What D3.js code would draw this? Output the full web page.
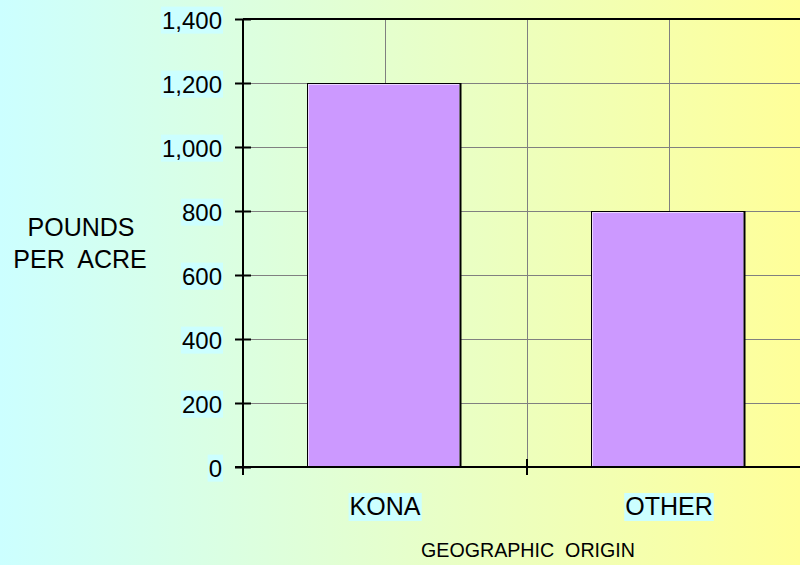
<!DOCTYPE html>
<html>
<head>
<meta charset="utf-8">
<script src="https://cdn.jsdelivr.net/npm/d3@7"></script>
<style>
  body { margin: 0; }
  text { font-family: "Liberation Sans", Arial, sans-serif; fill: #000; }
</style>
</head>
<body>
<div id="chart"></div>
<script>
// chart data
var categories = ["KONA", "OTHER"];
var values = [1200, 800];
var yTicks = [0, 200, 400, 600, 800, 1000, 1200, 1400];

var width = 800, height = 565;
var plotLeft = 243, plotTop = 19, plotBottom = 467, plotRight = 811;

var svg = d3.select("#chart").append("svg")
  .attr("width", width)
  .attr("height", height);

var grad = svg.append("defs").append("linearGradient")
  .attr("id", "bg")
  .attr("x1", "0%").attr("x2", "100%")
  .attr("y1", "0%").attr("y2", "0%");
grad.append("stop").attr("offset", "0%").attr("stop-color", "#ccffff");
grad.append("stop").attr("offset", "100%").attr("stop-color", "#ffff99");

svg.append("rect")
  .attr("width", width)
  .attr("height", height)
  .attr("fill", "url(#bg)");

// category slots (no padding) and bars inside them
var x = d3.scaleBand()
  .domain(categories)
  .range([plotLeft, plotRight]);
var step = x.step();
var barW = step * 0.54;
var barOff = step * 0.225;

var y = d3.scaleLinear()
  .domain([0, 1400])
  .range([plotBottom, plotTop]);

// horizontal grid
svg.append("g")
  .selectAll("line")
  .data(yTicks.slice(1))
  .enter().append("line")
  .attr("x1", plotLeft)
  .attr("x2", width)
  .attr("y1", function(d) { return Math.round(y(d)) + 0.5; })
  .attr("y2", function(d) { return Math.round(y(d)) + 0.5; })
  .attr("stroke", "#808080")
  .attr("stroke-width", 1);

// vertical grid, at category centres and boundaries
var vLines = [];
categories.forEach(function(c) {
  vLines.push(x(c) + step / 2);
  vLines.push(x(c) + step);
});
svg.append("g")
  .selectAll("line")
  .data(vLines)
  .enter().append("line")
  .attr("x1", function(d) { return Math.round(d) + 0.5; })
  .attr("x2", function(d) { return Math.round(d) + 0.5; })
  .attr("y1", plotTop)
  .attr("y2", plotBottom)
  .attr("stroke", "#808080")
  .attr("stroke-width", 1);

// bars
var bars = svg.append("g")
  .selectAll("g")
  .data(values)
  .enter().append("g");

bars.append("rect")
  .attr("x", function(d, i) { return Math.round(x(categories[i]) + barOff) + 0.5; })
  .attr("y", function(d) { return Math.round(y(d)) + 0.5; })
  .attr("width", Math.round(barW))
  .attr("height", function(d) { return Math.round(y(0) - y(d)); })
  .attr("fill", "#cc99ff")
  .attr("stroke", "#000")
  .attr("stroke-width", 1);

bars.append("rect")
  .attr("x", function(d, i) { return Math.round(x(categories[i]) + barOff) + 1.5; })
  .attr("y", function(d) { return Math.round(y(d)) + 1.5; })
  .attr("width", Math.round(barW) - 2)
  .attr("height", function(d) { return Math.round(y(0) - y(d)) - 2; })
  .attr("fill", "none")
  .attr("stroke", "#ffffff")
  .attr("stroke-opacity", 0.6)
  .attr("stroke-width", 1);

bars.append("line")
  .attr("x1", function(d, i) { return Math.round(x(categories[i]) + barOff) + Math.round(barW) + 0.5; })
  .attr("x2", function(d, i) { return Math.round(x(categories[i]) + barOff) + Math.round(barW) + 0.5; })
  .attr("y1", function(d) { return Math.round(y(d)); })
  .attr("y2", y(0))
  .attr("stroke", "#000")
  .attr("stroke-width", 2);

// top frame
svg.append("line")
  .attr("x1", plotLeft)
  .attr("x2", width)
  .attr("y1", plotTop)
  .attr("y2", plotTop)
  .attr("stroke", "#000")
  .attr("stroke-width", 2);

// y axis
var yAxis = svg.append("g")
  .attr("transform", "translate(" + plotLeft + ",0)")
  .call(d3.axisLeft(y).tickValues(yTicks).tickSize(8).tickPadding(13)
    .tickFormat(d3.format(",")));
yAxis.select(".domain").attr("stroke", "#000").attr("stroke-width", 2)
  .attr("d", "M0," + plotTop + "V" + plotBottom);
yAxis.selectAll(".tick line")
  .attr("x1", 8).attr("x2", -8)
  .attr("stroke", "#000").attr("stroke-width", 2);
yAxis.selectAll(".tick text")
  .style("font-size", "24px")
  .attr("dy", "0.38em");
yAxis.selectAll(".tick").each(function() {
  var t = d3.select(this).select("text");
  var b = t.node().getBBox();
  d3.select(this).insert("rect", "text")
    .attr("x", b.x - 1).attr("y", b.y)
    .attr("width", b.width + 2).attr("height", b.height)
    .attr("fill", "#ccffff");
});

// x axis
svg.append("line")
  .attr("x1", plotLeft - 8)
  .attr("x2", width)
  .attr("y1", plotBottom)
  .attr("y2", plotBottom)
  .attr("stroke", "#000")
  .attr("stroke-width", 2);

svg.append("g")
  .selectAll("line")
  .data(categories)
  .enter().append("line")
  .attr("x1", function(d) { return x(d); })
  .attr("x2", function(d) { return x(d); })
  .attr("y1", function(d, i) { return i === 0 ? plotBottom : plotBottom - 8; })
  .attr("y2", plotBottom + 8)
  .attr("stroke", "#000")
  .attr("stroke-width", 2);

// category labels with highlight
var catG = svg.append("g")
  .selectAll("g")
  .data(categories)
  .enter().append("g");
catG.append("text")
  .attr("x", function(d) { return x(d) + step / 2; })
  .attr("y", 515)
  .attr("text-anchor", "middle")
  .style("font-size", "25px")
  .text(function(d) { return d; });
catG.each(function() {
  var t = d3.select(this).select("text");
  var b = t.node().getBBox();
  d3.select(this).insert("rect", "text")
    .attr("x", b.x - 1).attr("y", b.y + 1)
    .attr("width", b.width + 2).attr("height", b.height)
    .attr("fill", "#ccffff");
});

// axis titles
svg.append("text")
  .attr("x", 528)
  .attr("y", 557)
  .attr("text-anchor", "middle")
  .attr("textLength", 214)
  .attr("lengthAdjust", "spacingAndGlyphs")
  .style("font-size", "21px")
  .style("white-space", "pre")
  .text("GEOGRAPHIC  ORIGIN");

svg.append("text")
  .attr("x", 81)
  .attr("y", 236)
  .attr("text-anchor", "middle")
  .style("font-size", "25px")
  .text("POUNDS");

svg.append("text")
  .attr("x", 80)
  .attr("y", 268)
  .attr("text-anchor", "middle")
  .style("font-size", "25px")
  .style("white-space", "pre")
  .text("PER  ACRE");
</script>
</body>
</html>
